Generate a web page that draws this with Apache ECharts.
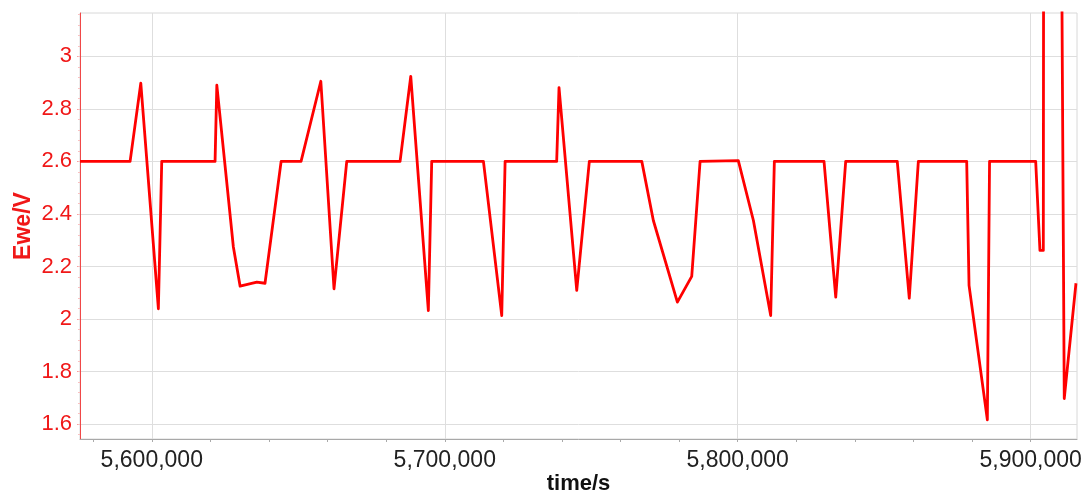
<!DOCTYPE html>
<html>
<head>
<meta charset="utf-8">
<script src="https://cdn.jsdelivr.net/npm/echarts@6/dist/echarts.min.js"></script>
<style>
	html, body { margin: 0; padding: 0; background: #fff; }
	#chart { width: 1083px; height: 490px; }
</style>
</head>
<body>
<div id="chart"></div>
<script>
// time/s of each vertex of the Ewe trace
const timeValues = [
	5575500, 5592600, 5596250, 5602250, 5603400, 5621600, 5622200, 5627850,
	5630150, 5635850, 5638650, 5644150, 5650950, 5657700, 5662200, 5666550,
	5684750, 5688400, 5694400, 5695550, 5713200, 5719450, 5720600, 5738200,
	5739000, 5745050, 5749350, 5767250, 5771200, 5779400, 5784300, 5787150,
	5800200, 5805350, 5811250, 5812500, 5829450, 5833450, 5836850, 5854450,
	5858550, 5861650, 5878150, 5878950, 5885200, 5885950, 5901700, 5903150,
	5904300, 5904450, 5910250, 5911450, 5915450
];
// Ewe/V at the same vertices
const eweValues = [
	2.6, 2.6, 2.898, 2.039, 2.6, 2.6, 2.89, 2.274,
	2.125, 2.14, 2.136, 2.6, 2.6, 2.905, 2.115, 2.6,
	2.6, 2.924, 2.032, 2.6, 2.6, 2.013, 2.6, 2.6,
	2.881, 2.109, 2.6, 2.6, 2.375, 2.064, 2.162, 2.6,
	2.603, 2.375, 2.013, 2.6, 2.6, 2.083, 2.6, 2.6,
	2.079, 2.6, 2.6, 2.128, 1.616, 2.6, 2.6, 2.261,
	2.261, 4.0, 4.0, 1.697, 2.136
];

const xMajorTicks = [ 5600000, 5700000, 5800000, 5900000 ];
const yMajorTicks = [ 1.6, 1.8, 2.0, 2.2, 2.4, 2.6, 2.8, 3.0 ];
const xRange = [ 5575500, 5915800 ];
const yRange = [ 1.543, 3.165 ];

const steps = ( from, to, step ) => {
	const out = [];
	for ( let v = from; v <= to + step / 1000; v += step ) {
		out.push( Math.round( v * 1000 ) / 1000 );
	}
	return out;
};
const xMinorTicks = steps( 5580000, 5900000, 20000 );
const yMinorTicks = steps( 1.56, 3.16, 0.04 );

const red = '#f01818';
const font = 'Liberation Sans, Arial, sans-serif';
const numberFormat = new Intl.NumberFormat( 'en-US' );

const chart = echarts.init( document.getElementById( 'chart' ), null, { renderer: 'canvas' } );

chart.setOption( {
	animation: false,
	grid: {
		left: 80,
		right: 6,
		top: 13,
		bottom: 51,
		outerBoundsMode: 'none',
		containLabel: false,
		show: true,
		borderColor: '#d8d8d8',
		borderWidth: 1
	},
	xAxis: [
		{
			type: 'value',
			position: 'bottom',
			min: xRange[ 0 ],
			max: xRange[ 1 ],
			name: 'time/s',
			nameLocation: 'middle',
			nameGap: 34,
			nameMoveOverlap: false,
			nameTextStyle: { color: '#111', fontSize: 22, fontWeight: 'bold', fontFamily: font },
			axisLine: { lineStyle: { color: '#a8a8a8', width: 1 } },
			axisTick: { show: true, length: 3, customValues: xMajorTicks, lineStyle: { color: '#999' } },
			axisLabel: {
				customValues: xMajorTicks,
				color: '#222',
				fontSize: 23,
				fontFamily: font,
				margin: 10,
				formatter: ( v ) => numberFormat.format( v )
			},
			splitLine: { show: true, lineStyle: { color: '#dedede', width: 1 } }
		},
		{
			type: 'value',
			position: 'bottom',
			min: xRange[ 0 ],
			max: xRange[ 1 ],
			axisLine: { show: false },
			axisTick: { show: true, length: 3, customValues: xMinorTicks, lineStyle: { color: '#aaa' } },
			axisLabel: { show: false },
			splitLine: { show: false }
		}
	],
	yAxis: [
		{
			type: 'value',
			position: 'left',
			min: yRange[ 0 ],
			max: yRange[ 1 ],
			name: 'Ewe/V',
			nameLocation: 'middle',
			nameGap: 45,
			nameMoveOverlap: false,
			nameTextStyle: { color: red, fontSize: 23, fontWeight: 'bold', fontFamily: font },
			axisLine: { show: true, lineStyle: { color: '#f04848', width: 1 } },
			axisTick: { show: true, length: 3, customValues: yMajorTicks, lineStyle: { color: '#f5a0a0' } },
			axisLabel: {
				customValues: yMajorTicks,
				color: red,
				fontSize: 22,
				fontFamily: font,
				margin: 8,
				formatter: ( v ) => String( Math.round( v * 10 ) / 10 )
			},
			splitLine: { show: true, lineStyle: { color: '#dedede', width: 1 } }
		},
		{
			type: 'value',
			position: 'left',
			min: yRange[ 0 ],
			max: yRange[ 1 ],
			axisLine: { show: false },
			axisTick: { show: true, length: 2, customValues: yMinorTicks, lineStyle: { color: '#f8c0c0' } },
			axisLabel: { show: false },
			splitLine: { show: false }
		}
	],
	series: [
		{
			type: 'line',
			xAxisIndex: 0,
			yAxisIndex: 0,
			data: timeValues.map( ( t, i ) => [ t, eweValues[ i ] ] ),
			showSymbol: false,
			clip: true,
			lineStyle: { color: '#ff0000', width: 2.8, join: 'round' }
		}
	]
} );
</script>
</body>
</html>
